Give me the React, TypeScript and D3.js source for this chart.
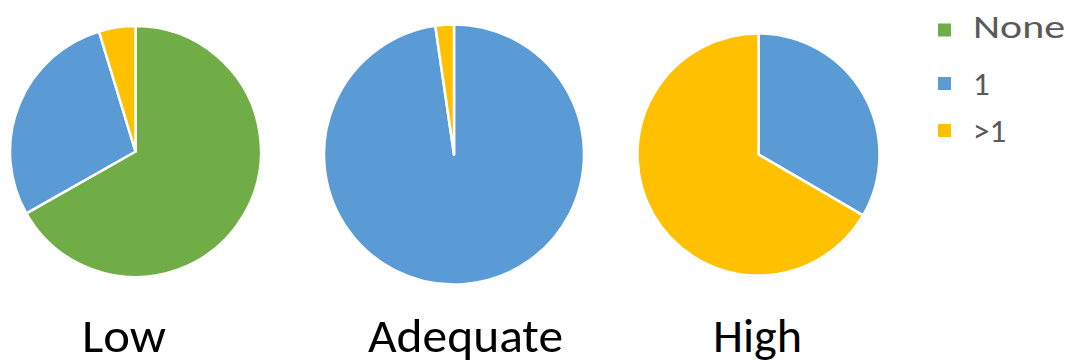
import React from "react";
import * as d3 from "d3";

const categories = ["None", "1", ">1"];
const colors = ["#70AD47", "#5B9BD5", "#FFC000"];
const groups = ["Low", "Adequate", "High"];
const lowValues = [66.8, 28.5, 4.7];
const adequateValues = [0, 97.7, 2.3];
const highValues = [0, 33.4, 66.6];

const pies = [
  { label: groups[0], values: lowValues, cx: 135.5, cy: 151.5, r: 125.5, lx: 82, lw: 84 },
  { label: groups[1], values: adequateValues, cx: 454, cy: 154.5, r: 130, lx: 368, lw: 195 },
  { label: groups[2], values: highValues, cx: 758.5, cy: 154.5, r: 121, lx: 713, lw: 89 },
];

const legendSquareY = [30, 83.5, 130.5];
const legendBaseline = [38, 95, 142];

export default function App() {
  const pie = d3.pie<number>().sort(null).value((d) => d);
  return (
    <svg width={1060} height={356} style={{ display: "block", background: "#fff" }}>
      {pies.map((p) => {
        const arc = d3.arc<d3.PieArcDatum<number>>().innerRadius(0).outerRadius(p.r);
        const arcs = pie(p.values);
        return (
          <g key={p.label}>
            <g transform={`translate(${p.cx - 8},${p.cy - 8})`}>
              {arcs.map((a, i) =>
                a.value > 0 ? (
                  <path
                    key={i}
                    d={arc(a) || ""}
                    fill={colors[i]}
                    stroke="#fff"
                    strokeWidth={2.5}
                    strokeLinejoin="round"
                  />
                ) : null
              )}
            </g>
            <text
              x={p.lx - 8}
              y={352 - 8}
              fontFamily="Carlito, Calibri, Lato, sans-serif"
              fontSize={47}
              fill="#000"
              textLength={p.lw}
              lengthAdjust="spacingAndGlyphs"
            >
              {p.label}
            </text>
          </g>
        );
      })}
      {categories.map((c, i) => (
        <g key={c}>
          <rect x={938 - 8} y={legendSquareY[i] - 6.5 - 8} width={13} height={13} fill={colors[i]} />
          <text
            x={973 - 8}
            y={legendBaseline[i] - 8}
            fontFamily="Carlito, Calibri, Lato, sans-serif"
            fontSize={33}
            fill="#595959"
            {...(c === "None" ? { textLength: 92, lengthAdjust: "spacingAndGlyphs" } : {})}
          >
            {c}
          </text>
        </g>
      ))}
    </svg>
  );
}
